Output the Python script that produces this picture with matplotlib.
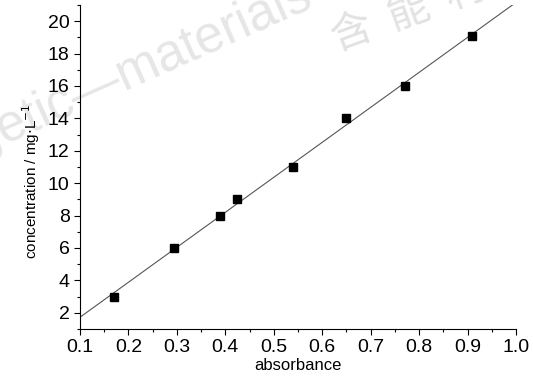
import numpy as np
import matplotlib
matplotlib.use('Agg')
import matplotlib.pyplot as plt
from matplotlib.ticker import MultipleLocator

plt.rcParams['font.family'] = ['Liberation Sans Narrow', 'Liberation Sans', 'DejaVu Sans']

# Calibration data
absorbance = [0.17, 0.295, 0.39, 0.425, 0.54, 0.65, 0.77, 0.91]
concentration = [3.0, 6.0, 8.0, 9.0, 11.0, 14.0, 16.0, 19.1]
x_ticks = [0.1, 0.2, 0.3, 0.4, 0.5, 0.6, 0.7, 0.8, 0.9, 1.0]
y_ticks = [2, 4, 6, 8, 10, 12, 14, 16, 18, 20]

slope, intercept = np.polyfit(absorbance, concentration, 1)
x_fit = np.array([0.1, 1.0])
y_fit = slope * x_fit + intercept

fig = plt.figure(figsize=(5.33, 3.76), dpi=100)
ax = fig.add_axes([0.150, 0.125, 0.818, 0.862])
ax.set_zorder(1)
ax.patch.set_alpha(0)

# watermark (faint, behind the plot)
fig.text(-0.215, 0.475, 'energetic\u2014materials', fontsize=37, color='#e6e6e6',
         rotation=24, rotation_mode='anchor', ha='left', va='baseline',
         family=['Liberation Sans', 'DejaVu Sans'], zorder=0)
fig.text(0.625, 0.894, '含  能  材  料', fontsize=30, color='#e2e2e2', rotation=20,
         rotation_mode='anchor', ha='left', va='center', fontweight='light',
         family=['Noto Sans CJK SC'], zorder=0)

ax.plot(x_fit, y_fit, color='#555555', linewidth=0.8)
ax.plot(absorbance, concentration, 's', color='black', markersize=5.5)

ax.set_xlim(0.1, 1.0)
ax.set_ylim(1, 21)
ax.set_xticks(x_ticks)
ax.set_xticklabels([f'{v:.1f}' for v in x_ticks])
ax.set_yticks(y_ticks)
ax.xaxis.set_minor_locator(MultipleLocator(0.05))
ax.yaxis.set_minor_locator(MultipleLocator(1))

for s in ['top', 'right']:
    ax.spines[s].set_visible(False)

ax.tick_params(which='major', direction='out', length=4, width=0.8, labelsize=14)
ax.tick_params(which='minor', direction='out', length=2.5, width=0.8)

ax.set_xlabel('absorbance', fontsize=12, labelpad=1)
ax.set_ylabel('concentration / mg$\\cdot$L$^{-1}$', fontsize=11)
ax.yaxis.set_label_coords(-0.088, 0.455)

fig.savefig('out.png', dpi=100)
